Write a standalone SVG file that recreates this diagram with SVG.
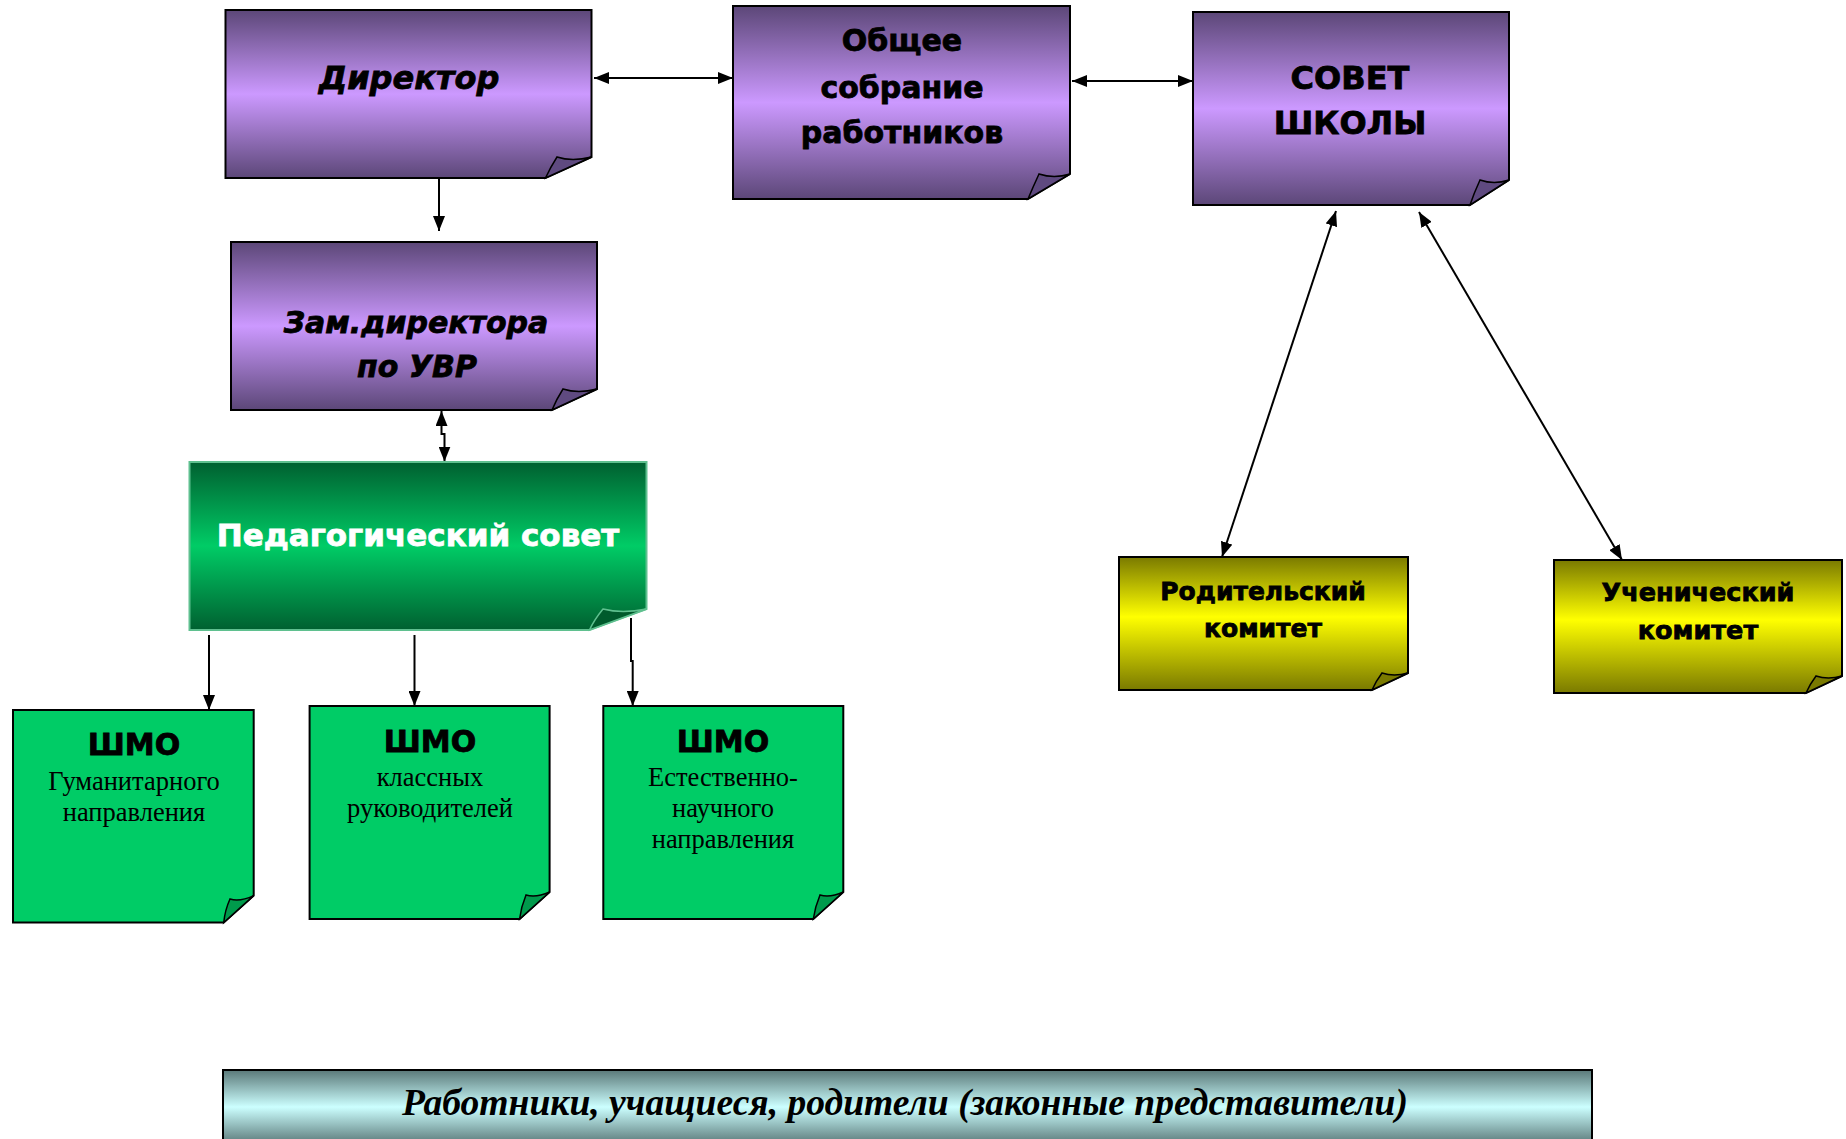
<svg xmlns="http://www.w3.org/2000/svg" width="1846" height="1139" viewBox="0 0 1846 1139">
<defs>
<linearGradient id="gPurple" x1="0" y1="0" x2="0" y2="1">
<stop offset="0" stop-color="#5c4778"/><stop offset="0.5" stop-color="#cc99ff"/><stop offset="1" stop-color="#5c4778"/>
</linearGradient>
<linearGradient id="gGreen" x1="0" y1="0" x2="0" y2="1">
<stop offset="0" stop-color="#006030"/><stop offset="0.5" stop-color="#00cc66"/><stop offset="1" stop-color="#006030"/>
</linearGradient>
<linearGradient id="gYellow" x1="0" y1="0" x2="0" y2="1">
<stop offset="0" stop-color="#7a7a00"/><stop offset="0.45" stop-color="#ffff00"/><stop offset="1" stop-color="#7a7a00"/>
</linearGradient>
<linearGradient id="gBanner" x1="0" y1="0" x2="0" y2="1">
<stop offset="0" stop-color="#5a7878"/><stop offset="0.5" stop-color="#ccffff"/><stop offset="1" stop-color="#5a7878"/>
</linearGradient>
<marker id="ah" viewBox="0 0 15 12" refX="15" refY="6" markerWidth="15" markerHeight="12" markerUnits="userSpaceOnUse" orient="auto-start-reverse">
<path d="M0,0 L15,6 L0,12 Z" fill="#000"/>
</marker>
</defs>
<style>
.pur{fill:url(#gPurple);stroke:#000;stroke-width:2}
.purf{fill:#5f4a80;stroke:#000;stroke-width:1.5}
.ped{fill:url(#gGreen);stroke:#5fc08f;stroke-width:2}
.pedf{fill:#005a2c;stroke:#5fc08f;stroke-width:1.5}
.shmo{fill:#00cc66;stroke:#000;stroke-width:2}
.shmof{fill:#009a4c;stroke:#000;stroke-width:1.5}
.yel{fill:url(#gYellow);stroke:#000;stroke-width:2}
.yelf{fill:#7a7a00;stroke:#000;stroke-width:1.5}
.b{font-family:"DejaVu Sans","Liberation Sans",sans-serif;font-weight:bold;fill:#000;stroke:#000;stroke-width:0.8;text-anchor:middle}
.bi{font-family:"DejaVu Sans","Liberation Sans",sans-serif;font-weight:bold;font-style:italic;fill:#000;stroke:#000;stroke-width:0.8;text-anchor:middle}
.w{fill:#fff;stroke:#fff}
.s{font-family:"Liberation Serif","Times New Roman",serif;font-size:26.5px;fill:#000;text-anchor:middle}
.con{fill:none;stroke:#000;stroke-width:2}
</style>
<rect width="1846" height="1139" fill="#fff"/>

<g id="connectors">
<path class="con" d="M594,78 H733" marker-start="url(#ah)" marker-end="url(#ah)"/>
<path class="con" d="M1072,81 H1193" marker-start="url(#ah)" marker-end="url(#ah)"/>
<path class="con" d="M439,178 V231" marker-end="url(#ah)"/>
<path class="con" d="M441.5,411 V434 H444.5 V461.5" marker-start="url(#ah)" marker-end="url(#ah)"/>
<path class="con" d="M209,635 V710" marker-end="url(#ah)"/>
<path class="con" d="M414.5,635 V706" marker-end="url(#ah)"/>
<path class="con" d="M631,618 V661 H632.7 V706" marker-end="url(#ah)"/>
<path class="con" d="M1336,211 L1222,557" marker-start="url(#ah)" marker-end="url(#ah)"/>
<path class="con" d="M1419,212 L1622,560" marker-start="url(#ah)" marker-end="url(#ah)"/>
</g>

<g id="director">
<path class="pur" d="M225.5,10 H591.5 V157 L545.5,178 H225.5 Z"/>
<path class="purf" d="M545.5,178 Q550,168 557,157 Q572,162 591.5,157 Z"/>
<text class="bi" x="409" y="89" font-size="32">Директор</text>
</g>

<g id="obshchee">
<path class="pur" d="M733,6 H1070 V174 L1028,199 H733 Z"/>
<path class="purf" d="M1028,199 Q1033,187 1039,174 Q1054,179 1070,174 Z"/>
<text class="b" x="902" y="51" font-size="30">Общее</text>
<text class="b" x="902" y="98" font-size="30">собрание</text>
<text class="b" x="902" y="143" font-size="30">работников</text>
</g>

<g id="sovet">
<path class="pur" d="M1193,12 H1509 V180 L1470,205 H1193 Z"/>
<path class="purf" d="M1470,205 Q1474,193 1480,180 Q1494,185 1509,180 Z"/>
<text class="b" x="1350" y="89" font-size="32">СОВЕТ</text>
<text class="b" x="1350" y="134" font-size="32">ШКОЛЫ</text>
</g>

<g id="zam">
<path class="pur" d="M231,242 H597 V389 L552,410 H231 Z"/>
<path class="purf" d="M552,410 Q556,400 563,389 Q578,394 597,389 Z"/>
<text class="bi" x="416" y="333" font-size="30">Зам.директора</text>
<text class="bi" x="417" y="377" font-size="30">по УВР</text>
</g>

<g id="pedsovet">
<path class="ped" d="M189.5,462 H646.5 V609 L589.5,630 H189.5 Z"/>
<path class="pedf" d="M589.5,630 Q594,620 603,609 Q622,614 646.5,609 Z"/>
<text class="b w" x="418" y="546" font-size="31">Педагогический совет</text>
</g>

<g id="shmo1">
<path class="shmo" d="M13,710 H253.7 V895.6 L223.7,922.6 H13 Z"/>
<path class="shmof" d="M223.7,922.6 Q225,910 230,899 Q240,902 253.7,895.6 Z"/>
<text class="b" x="134" y="755" font-size="30">ШМО</text>
<text class="s" x="134" y="790">Гуманитарного</text>
<text class="s" x="134" y="821">направления</text>
</g>

<g id="shmo2">
<path class="shmo" d="M309.6,706 H549.6 V892 L519.6,919 H309.6 Z"/>
<path class="shmof" d="M519.6,919 Q521,907 526,895 Q536,898 549.6,892 Z"/>
<text class="b" x="430" y="752" font-size="30">ШМО</text>
<text class="s" x="430" y="786">классных</text>
<text class="s" x="430" y="817">руководителей</text>
</g>

<g id="shmo3">
<path class="shmo" d="M603.3,706 H843.3 V892 L813.3,919 H603.3 Z"/>
<path class="shmof" d="M813.3,919 Q815,907 820,895 Q830,898 843.3,892 Z"/>
<text class="b" x="723" y="752" font-size="30">ШМО</text>
<text class="s" x="723" y="786">Естественно-</text>
<text class="s" x="723" y="817">научного</text>
<text class="s" x="723" y="848">направления</text>
</g>

<g id="roditelskiy">
<path class="yel" d="M1119,557 H1408 V673 L1372,690 H1119 Z"/>
<path class="yelf" d="M1372,690 Q1376,681 1382,673 Q1394,677 1408,673 Z"/>
<text class="b" x="1263" y="600" font-size="25">Родительский</text>
<text class="b" x="1263" y="637" font-size="25">комитет</text>
</g>

<g id="uchenicheskiy">
<path class="yel" d="M1554,560 H1842 V676 L1806,693 H1554 Z"/>
<path class="yelf" d="M1806,693 Q1810,684 1816,676 Q1828,680 1842,676 Z"/>
<text class="b" x="1698" y="601" font-size="25.5">Ученический</text>
<text class="b" x="1698" y="639" font-size="25.5">комитет</text>
</g>

<g id="banner">
<rect x="223" y="1070" width="1369" height="74" fill="url(#gBanner)" stroke="#000" stroke-width="2"/>
<text x="402" y="1115" font-family="'Liberation Serif','Times New Roman',serif" font-size="37" font-weight="bold" font-style="italic" textLength="1006" lengthAdjust="spacingAndGlyphs">Работники, учащиеся, родители (законные представители)</text>
</g>
</svg>
